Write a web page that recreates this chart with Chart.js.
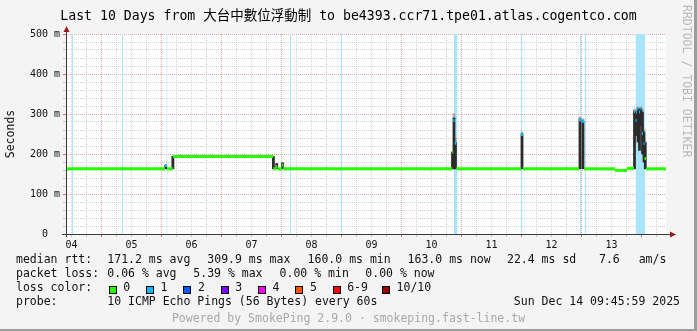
<!DOCTYPE html>
<html><head><meta charset="utf-8">
<script src="https://cdn.jsdelivr.net/npm/chart.js@4/dist/chart.umd.min.js"></script>
<style>html,body{margin:0;padding:0;background:#f4f4f4;}canvas{display:block}</style>
</head><body>
<canvas id="c" width="697" height="331"></canvas>
<script>
// ===== DATA (time = hours after Thu Dec 4 09:45:59 2025, values = ms) =====
const startHourOfDay = 9 + 45/60 + 59/3600;
const dayLabels = ['04','05','06','07','08','09','10','11','12','13'];
const yLabels = ['0  ','100 m','200 m','300 m','400 m','500 m'];

// median rtt runs (start, end, value, loss colour index)
const medStart = [0,    39.6, 40.4, 42.8, 83.0, 84.0, 84.5, 86.3, 86.9, 154.5, 154.9, 155.5, 156.1, 182.0, 182.8, 205.2, 206.4, 207.2, 219.6, 224.4, 227.2, 227.8, 228.6, 229.2, 229.8, 230.4, 231.0, 231.4, 232.0];
const medEnd   = [39.6, 40.4, 42.7, 82.9, 84.0, 84.5, 86.3, 86.9, 154.5, 154.9, 155.5, 156.1, 182.0, 182.8, 205.2, 206.0, 207.2, 219.6, 224.4, 227.2, 227.6, 228.2, 229.0, 229.6, 230.2, 230.8, 231.4, 232.0, 240];
const medValue = [163,  171,  163,  194,  163,  168,  163,  172,  163,  205,   284,   227,   163,   249,   163,   285,   281,   163,   159,   164,   306,   284,   313,   305,   313,   251,   226,   189,   163];
const medLoss  = [0,    1,    0,    0,    0,    0,    0,    0,    0,    0,     1,     1,     0,     1,     0,     1,     1,     0,     0,     0,     1,     1,     1,     1,     1,     1,     1,     0,     0];

// smoke (spread of the pings)
const smokeTime = [39.9, 42.75, 82.95, 84.3, 86.6, 154.6, 155.2, 155.8, 182.4, 205.6, 206.8, 227.4, 228.0, 228.8, 229.4, 230.0, 230.6, 231.2, 231.7];
const smokeLow  = [163,  163,   163,   163,  163,  163,   163,   163,   163,   163,   163,   163,   246,   230,   209,   271,   200,   180,   163];
const smokeHigh = [172,  194,   194,   176,  178,  205,   290,   228,   250,   288,   282,   307,   300,   313,   312,   313,   304,   255,   228];
const smokeMax  = [172,  194,   194,   176,  178,  205,   301,   240,   255,   292,   288,   312,   305,   318,   316,   318,   310,   262,   232];

// periods with packet loss (background bars)
const lossStart = [2.4, 22.4, 40.2, 89.6, 110.0, 155.2, 182.0, 205.6, 207.6, 227.8];
const lossEnd   = [2.8, 22.8, 40.6, 90.0, 110.4, 156.6, 182.4, 206.0, 208.0, 231.6];

// legend texts
const rttStats  = ['171.2 ms avg', '309.9 ms max', '160.0 ms min', '163.0 ms now', '22.4 ms sd', '7.6', 'am/s'];
const lossStats = ['0.06 % avg', '5.39 % max', '0.00 % min', '0.00 % now'];
const lossNames  = ['0','1','2','3','4','5','6-9','10/10'];
const lossColors = ['#26ff00','#00b8ff','#0059ff','#7e00ff','#ff00ff','#ff5500','#ff0000','#a10000'];
const probeText = '10 ICMP Echo Pings (56 Bytes) every 60s';
const dateText = 'Sun Dec 14 09:45:59 2025';
const titleParts = ['Last 10 Days from ', '大台中數位浮動制', ' to be4393.ccr71.tpe01.atlas.cogentco.com'];
const poweredText = 'Powered by SmokePing 2.9.0 · smokeping.fast-line.tw';
const watermark = 'RRDTOOL / TOBI OETIKER';

// ===== BUILD =====
const MONO = '"DejaVu Sans Mono", monospace';
const medData = [];
medStart.forEach((s, i) => { medData.push({x: s, y: medValue[i]}); medData.push({x: medEnd[i], y: medValue[i]}); });
const lossData = [];
lossStart.forEach((s, i) => { lossData.push({x: s, y: 500}); lossData.push({x: lossEnd[i], y: 500}); lossData.push({x: lossEnd[i], y: null}); });
const smokeDark = smokeTime.map((t, i) => ({x: t, y: [smokeLow[i], smokeHigh[i]]}));
const smokeLight = smokeTime.map((t, i) => ({x: t, y: [smokeLow[i], smokeMax[i]]}));

function hourMod(v, m){ const h = v + startHourOfDay; return ((h % m) + m) % m; }
const isMidnight = v => Math.abs(hourMod(v, 24)) < 0.01 || Math.abs(hourMod(v,24) - 24) < 0.01;
const MAJ = '#e2a8a8', MIN = '#d2d2d2';

const decor = {
  id: 'decor',
  beforeDraw(chart) {
    const ctx = chart.ctx, a = chart.chartArea;
    ctx.save();
    ctx.fillStyle = '#f4f4f4'; ctx.fillRect(0, 0, chart.width, chart.height);
    ctx.fillStyle = '#ffffff'; ctx.fillRect(a.left, a.top, a.right - a.left, a.bottom - a.top);
    ctx.restore();
  },
  afterDraw(chart) {
    const ctx = chart.ctx, a = chart.chartArea, W = chart.width, H = chart.height;
    ctx.save();
    // axes
    ctx.strokeStyle = '#3a3a3a'; ctx.lineWidth = 1;
    ctx.beginPath();
    ctx.moveTo(a.left + 0.5, a.top - 3); ctx.lineTo(a.left + 0.5, a.bottom + 3);
    ctx.moveTo(a.left - 4, a.bottom + 0.5); ctx.lineTo(a.right + 5, a.bottom + 0.5);
    ctx.stroke();
    ctx.fillStyle = '#9c1c1c';
    ctx.beginPath();
    ctx.moveTo(a.left + 0.5 - 3, a.top - 2); ctx.lineTo(a.left + 0.5, a.top - 8); ctx.lineTo(a.left + 0.5 + 3, a.top - 2); ctx.closePath(); ctx.fill();
    ctx.beginPath();
    ctx.moveTo(a.right + 4, a.bottom + 0.5 - 3); ctx.lineTo(a.right + 10, a.bottom + 0.5); ctx.lineTo(a.right + 4, a.bottom + 0.5 + 3); ctx.closePath(); ctx.fill();

    // title
    ctx.fillStyle = '#000'; ctx.textBaseline = 'alphabetic'; ctx.textAlign = 'left';
    const fonts = ['13.2px ' + MONO, '13.5px "Noto Sans CJK TC"', '13.2px ' + MONO];
    let widths = titleParts.map((t, i) => { ctx.font = fonts[i]; return ctx.measureText(t).width; });
    let tx = W / 2 - widths.reduce((p, c) => p + c, 0) / 2;
    titleParts.forEach((t, i) => { ctx.font = fonts[i]; ctx.fillText(t, tx, 20); tx += widths[i]; });

    // watermark
    ctx.save();
    ctx.font = '11.5px ' + MONO; ctx.fillStyle = '#b8b8b8'; ctx.textBaseline = 'middle';
    ctx.translate(686, 5); ctx.rotate(Math.PI / 2); ctx.fillText(watermark, 0, 0);
    ctx.restore();

    // legend
    ctx.font = '11.5px ' + MONO; ctx.fillStyle = '#111'; ctx.textBaseline = 'alphabetic';
    ctx.fillText('median rtt:', 16, 262.7);
    const rx = [107.3, 207.3, 307.6, 407.6, 507, 599, 638.7];
    rttStats.forEach((t, i) => ctx.fillText(t, rx[i], 262.7));
    ctx.fillText('packet loss:', 16, 276.7);
    const lx = [107.3, 193.3, 279.6, 365.3];
    lossStats.forEach((t, i) => ctx.fillText(t, lx[i], 276.7));
    ctx.fillText('loss color:', 16, 290.7);
    const bx = [108.7, 146, 183.3, 220.6, 258, 295.3, 332.6, 382];
    lossNames.forEach((n, i) => {
      const x = Math.round(bx[i]);
      ctx.fillStyle = lossColors[i]; ctx.fillRect(x, 286, 7, 7);
      ctx.strokeStyle = '#000'; ctx.lineWidth = 1; ctx.strokeRect(x + 0.5, 286.5, 7, 7);
      ctx.fillStyle = '#111'; ctx.fillText(n, bx[i] + 14.6, 290.7);
    });
    ctx.fillText('probe:', 16, 304.7);
    ctx.fillText(probeText, 107.3, 304.7);
    ctx.textAlign = 'right'; ctx.fillText(dateText, 680, 304.7);
    ctx.textAlign = 'center'; ctx.fillStyle = '#a8a8a8'; ctx.fillText(poweredText, W / 2, 321.7);

    // frame
    ctx.fillStyle = '#9c9c9c';
    ctx.fillRect(W - 3, 0, 3, H);
    ctx.fillRect(0, H - 2, W, 2);
    ctx.restore();
  }
};

new Chart(document.getElementById('c'), {
  type: 'line',
  data: {
    datasets: [
      { type: 'line', label: 'loss', data: lossData, order: 4, fill: 'origin', backgroundColor: '#a8e4fc',
        borderWidth: 0, pointRadius: 0, spanGaps: false },
      { type: 'bar', label: 'smoke max', data: smokeLight, order: 3, backgroundColor: '#a9a9a9', barThickness: 2, grouped: false, borderWidth: 0 },
      { type: 'bar', label: 'smoke', data: smokeDark, order: 2, backgroundColor: '#2b2b2b', barThickness: 2, grouped: false, borderWidth: 0 },
      { type: 'line', label: 'median', data: medData, order: 1, borderWidth: 3, borderCapStyle: 'butt', pointRadius: 0,
        borderColor: 'rgba(0,0,0,0)', tension: 0,
        segment: { borderColor: c => (c.p0DataIndex >> 1) !== (c.p1DataIndex >> 1) ? 'rgba(0,0,0,0)' : lossColors[medLoss[c.p0DataIndex >> 1]] } }
    ]
  },
  options: {
    responsive: false, animation: false, devicePixelRatio: 1,
    layout: { padding: { top: 34, right: 31, left: 0, bottom: 0 } },
    plugins: { legend: { display: false }, tooltip: { enabled: false }, title: { display: false } },
    scales: {
      x: {
        type: 'linear', min: 0, max: 240, offset: false,
        afterBuildTicks: s => {
          const first = (6 - (startHourOfDay % 6)) % 6; const t = [];
          for (let h = first; h <= 240; h += 6) t.push({ value: h });
          s.ticks = t;
        },
        afterFit: s => { s.height = 97; },
        ticks: {
          autoSkip: false, maxRotation: 0, minRotation: 0, padding: 2, color: '#111',
          font: { family: MONO, size: 10 },
          callback: v => Math.abs(hourMod(v, 24) - 12) < 0.01 ? dayLabels[Math.floor((v + startHourOfDay) / 24)] : ''
        },
        grid: { offset: false, lineWidth: 1, tickLength: 3,
          color: c => isMidnight(c.tick.value) ? MAJ : MIN,
          tickColor: c => isMidnight(c.tick.value) ? '#e07070' : '#c8c8c8' },
        border: { display: false, dash: [1, 1] }
      },
      y: {
        type: 'linear', min: 0, max: 500,
        afterFit: s => { s.width = 66; },
        ticks: { stepSize: 20, autoSkip: false, padding: 3, color: '#111', font: { family: MONO, size: 10 },
          callback: v => (v % 100 === 0 ? yLabels[v / 100] : '') },
        grid: { lineWidth: 1, tickLength: 3,
          color: c => (c.tick.value % 100 === 0 ? MAJ : MIN),
          tickColor: c => (c.tick.value % 100 === 0 ? '#e07070' : '#c8c8c8') },
        border: { display: false, dash: [1, 1] },
        title: { display: true, text: 'Seconds', color: '#111', font: { family: MONO, size: 11.5 }, padding: { top: 4, bottom: 0 } }
      }
    }
  },
  plugins: [decor]
});
</script>
</body></html>
